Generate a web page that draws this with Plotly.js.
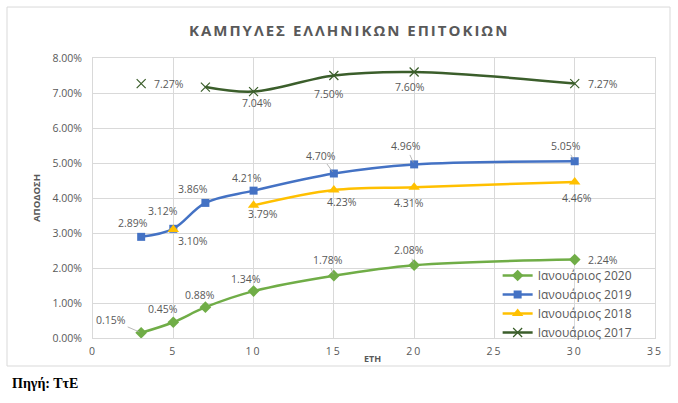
<!DOCTYPE html>
<html>
<head>
<meta charset="utf-8">
<script src="https://cdn.plot.ly/plotly-3.0.1.min.js"></script>
<style>
  html, body { margin: 0; padding: 0; background: #fff; }
  #chart { width: 678px; height: 403px; }
  .gtitle { letter-spacing: 2px; }
  .xtick text { letter-spacing: 2px; }
</style>
</head>
<body>
<div id="chart"></div>
<script>
// ---- data ----
const years = [3, 5, 7, 10, 15, 20, 30];
const jan2020 = [0.15, 0.45, 0.88, 1.34, 1.78, 2.08, 2.24];
const jan2019 = [2.89, 3.12, 3.86, 4.21, 4.70, 4.96, 5.05];
const jan2018 = [null, 3.10, null, 3.79, 4.23, 4.31, 4.46];
const jan2017 = [7.27, null, 7.17, 7.04, 7.50, 7.60, 7.27];
const seriesNames = ['Ιανουάριος 2020', 'Ιανουάριος 2019', 'Ιανουάριος 2018', 'Ιανουάριος 2017'];
const xTicks = [0, 5, 10, 15, 20, 25, 30, 35];
const yTicks = [0, 1, 2, 3, 4, 5, 6, 7, 8];

// ---- label placement (pixel offsets from point; [ax, ay, leader]) ----
const off2020 = [[-30,-13,1],[-10,-13,0],[-5,-12,0],[-8,-12,0],[-6,-16,1],[-5,-15,1],[28,0,0]];
const off2019 = [[-8,-14,0],[-10,-18,0],[-12,-14,0],[-7,-13,0],[-13,-18,1],[-8,-18,1],[-9,-15,1]];
const off2018 = [null,[20,11,0],null,[9,9,0],[8,12,0],[-5,16,0],[2,16,0]];
const off2017 = [[28,0,0],null,null,[3,11,0],[-5,18,0],[-4,15,0],[28,0,0]];

const colors = ['#70AD47', '#4472C4', '#FFC000', '#3B5E2B'];
const symbols = ['diamond', 'square', 'triangle-up', 'x-thin-open'];
const sizes = [9, 8, 10, 9];
const allSeries = [jan2020, jan2019, jan2018, jan2017];
const allOffsets = [off2020, off2019, off2018, off2017];

const traces = allSeries.map((vals, i) => ({
  x: years,
  y: vals,
  name: seriesNames[i],
  type: 'scatter',
  mode: 'lines+markers',
  connectgaps: false,
  line: { color: colors[i], width: 2.5, shape: 'spline', smoothing: 1 },
  marker: { symbol: symbols[i], size: sizes[i], color: colors[i],
            line: { color: colors[i], width: i === 3 ? 1.2 : 0 } }
}));

const annotations = [];
allSeries.forEach((vals, i) => {
  vals.forEach((v, j) => {
    const o = allOffsets[i][j];
    if (v === null || !o) return;
    annotations.push({
      x: years[j], y: v, xref: 'x', yref: 'y',
      text: v.toFixed(2) + '%',
      showarrow: true, ax: o[0], ay: o[1],
      arrowhead: 0, arrowwidth: 0.8, standoff: 2,
      arrowcolor: o[2] ? '#a6a6a6' : 'rgba(0,0,0,0)',
      font: { family: 'Open Sans, sans-serif', size: 10.5, color: '#595959' }
    });
  });
});

annotations.push({
  xref: 'paper', yref: 'paper', x: 0.497, y: 0, yshift: -20,
  text: 'ΕΤΗ', showarrow: false, xanchor: 'center', yanchor: 'middle',
  font: { family: 'Open Sans, sans-serif', size: 9, color: '#595959', weight: 'bold' }
});
annotations.push({
  xref: 'paper', yref: 'paper', x: -0.148, y: -0.161,
  text: '<b>Πηγή: ΤτΕ</b>', showarrow: false, xanchor: 'left', yanchor: 'middle',
  font: { family: 'Liberation Serif, DejaVu Serif, serif', size: 14, color: '#000' }
});

const axisFont = { family: 'Open Sans, sans-serif', size: 10.5, color: '#595959' };

const layout = {
  width: 678, height: 403,
  margin: { l: 93, r: 23, t: 58, b: 65 },
  paper_bgcolor: '#fff', plot_bgcolor: '#fff',
  title: {
    text: '<b>ΚΑΜΠΥΛΕΣ ΕΛΛΗΝΙΚΩΝ ΕΠΙΤΟΚΙΩΝ</b>',
    x: 0.515, xanchor: 'center', y: 0.923, yanchor: 'middle',
    font: { family: 'Open Sans, sans-serif', size: 15, color: '#595959' }
  },
  xaxis: {
    range: [0, 35], tickvals: xTicks, ticktext: xTicks.map(String),
    showgrid: true, gridcolor: '#d9d9d9', gridwidth: 1,
    zeroline: false, showline: true, linecolor: '#d9d9d9', mirror: true,
    ticks: '', tickfont: axisFont, ticklabelstandoff: 3, fixedrange: true
  },
  yaxis: {
    range: [0, 8], tickvals: yTicks, ticktext: yTicks.map(v => v.toFixed(2) + '%'),
    showgrid: true, gridcolor: '#d9d9d9', gridwidth: 1,
    zeroline: false, showline: true, linecolor: '#d9d9d9', mirror: true,
    ticks: '', tickfont: axisFont, ticklabelstandoff: 8,
    title: { text: '<b>ΑΠΟΔΟΣΗ</b>', standoff: 10,
             font: { family: 'Open Sans, sans-serif', size: 9.5, color: '#595959' } },
    fixedrange: true
  },
  legend: {
    x: 0.72, xanchor: 'left', y: 0.275, yanchor: 'top',
    bgcolor: 'rgba(0,0,0,0)', borderwidth: 0,
    font: { family: 'Open Sans, sans-serif', size: 12, color: '#595959' },
    traceorder: 'normal', itemwidth: 30, tracegroupgap: 0
  },
  annotations: annotations,
  shapes: [{
    type: 'rect', xref: 'paper', yref: 'paper',
    x0: -0.153, x1: 1.0267, y0: -0.1, y1: 1.182,
    line: { color: '#d9d9d9', width: 1 }, fillcolor: 'rgba(0,0,0,0)', layer: 'below'
  }],
  showlegend: true
};

Plotly.newPlot('chart', traces, layout, { displayModeBar: false, staticPlot: true });
</script>
</body>
</html>
